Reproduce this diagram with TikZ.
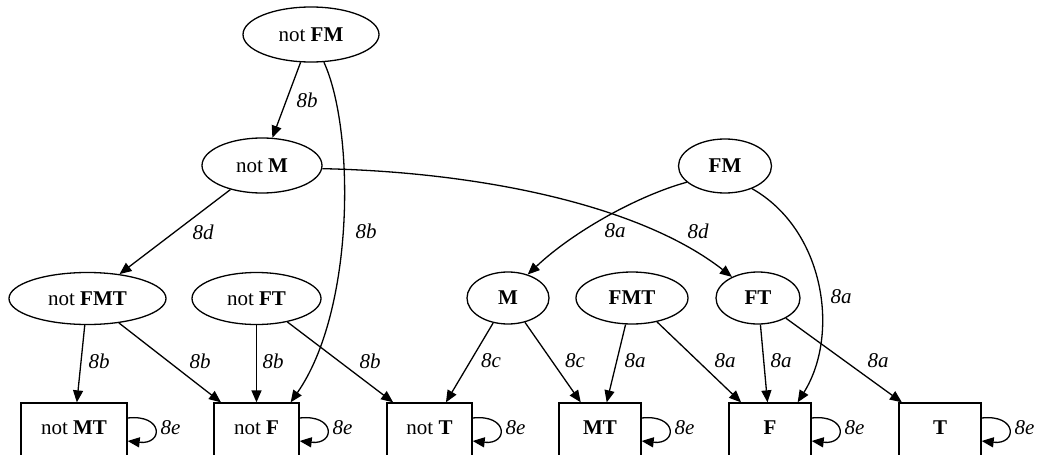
\documentclass[tikz,border=0pt]{standalone}
\usepackage{fontspec}
\setmainfont{Liberation Serif}
\usetikzlibrary{shapes.geometric,arrows.meta}
\begin{document}
\begin{tikzpicture}[x=1pt,y=-1pt,
  every node/.style={font=\fontsize{21}{25}\selectfont},
  ell/.style={draw,ellipse,line width=1.3pt,inner sep=0pt},
  box/.style={draw,rectangle,line width=1.3pt,inner sep=0pt,minimum height=54pt,text depth=4pt},
  edge/.style={line width=1.3pt,-{Triangle[length=12pt,width=10pt]}},
  lbl/.style={font=\fontsize{21}{25}\selectfont\itshape,inner sep=0pt}]
\useasboundingbox (0,0) rectangle (1037,455);
\clip (0,0) rectangle (1037,455);
% ellipses
\node[ell,minimum width=136pt,minimum height=55pt] (nFM) at (311,34.5) {not \textbf{FM}};
\node[ell,minimum width=120pt,minimum height=55pt] (nM) at (262,165.5) {not \textbf{M}};
\node[ell,minimum width=93pt,minimum height=54pt] (FM) at (725,166) {\textbf{FM}};
\node[ell,minimum width=157pt,minimum height=52pt] (nFMT) at (87.5,298.5) {not \textbf{FMT}};
\node[ell,minimum width=129pt,minimum height=52pt] (nFT) at (256.5,298.5) {not \textbf{FT}};
\node[ell,minimum width=82pt,minimum height=52pt] (M) at (508,298) {\textbf{M}};
\node[ell,minimum width=112pt,minimum height=52pt] (FMT) at (632,298) {\textbf{FMT}};
\node[ell,minimum width=84pt,minimum height=52pt] (FT) at (758,298) {\textbf{FT}};
% boxes
\node[box,minimum width=106pt] (nMT) at (74,430) {not \textbf{MT}};
\node[box,minimum width=85pt] (nF) at (256.5,430) {not \textbf{F}};
\node[box,minimum width=85pt] (nT) at (429.5,430) {not \textbf{T}};
\node[box,minimum width=82pt] (MT) at (600,430) {\textbf{MT}};
\node[box,minimum width=82pt] (F) at (770,430) {\textbf{F}};
\node[box,minimum width=82pt] (T) at (940,430) {\textbf{T}};
% edges
\draw[edge] (nFM) -- (nM);
\draw[edge] (nFM.-65) .. controls (355,130) and (355,310) .. ([xshift=-9pt]nF.north east);
\draw[edge] (nM) -- (nFMT);
\draw[edge] (nM.-3) .. controls (480,172) and (640,205) .. (FT.141);
\draw[edge] (FM.203) .. controls (640,195) and (575,230) .. (M.50);
\draw[edge] (FM.-40) .. controls (825,230) and (840,335) .. ([xshift=-14pt]F.north east);
\draw[edge] (nFMT) -- (nMT);
\draw[edge] (nFMT) -- (nF);
\draw[edge] (nFT) -- (nF);
\draw[edge] (nFT) -- (nT);
\draw[edge] (M) -- (nT);
\draw[edge] (M) -- (MT);
\draw[edge] (FMT) -- (MT);
\draw[edge] (FMT) -- (F);
\draw[edge] (FT) -- (F);
\draw[edge] (FT) -- (T);
% labels
\node[lbl] (l1) at (307,100) {8b};
\node[lbl] (l2) at (366,231) {8b};
\node[lbl] (l3) at (203,232) {8d};
\node[lbl] (l4) at (615,231) {8a};
\node[lbl] (l5) at (698,231) {8d};
\node[lbl] (l6) at (841,297) {8a};
\node[lbl] (l7) at (99,361) {8b};
\node[lbl] (l8) at (200,361) {8b};
\node[lbl] (l9) at (273,361) {8b};
\node[lbl] (l10) at (370,361) {8b};
\node[lbl] (l11) at (491,361) {8c};
\node[lbl] (l12) at (575,361) {8c};
\node[lbl] (l13) at (635,361) {8a};
\node[lbl] (l14) at (725,361) {8a};
\node[lbl] (l15) at (781,361) {8a};
\node[lbl] (l16) at (878,361) {8a};
% self loops
\foreach \n in {nMT,nF,nT,MT,F,T} {
  \draw[edge] ([yshift=12pt]\n.east) .. controls +(36,-4) and +(36,4) .. ([yshift=-11pt]\n.east);
  \node[lbl] (e\n) at ([xshift=43pt,yshift=2pt]\n.east) {8e};
}
\end{tikzpicture}
\end{document}
